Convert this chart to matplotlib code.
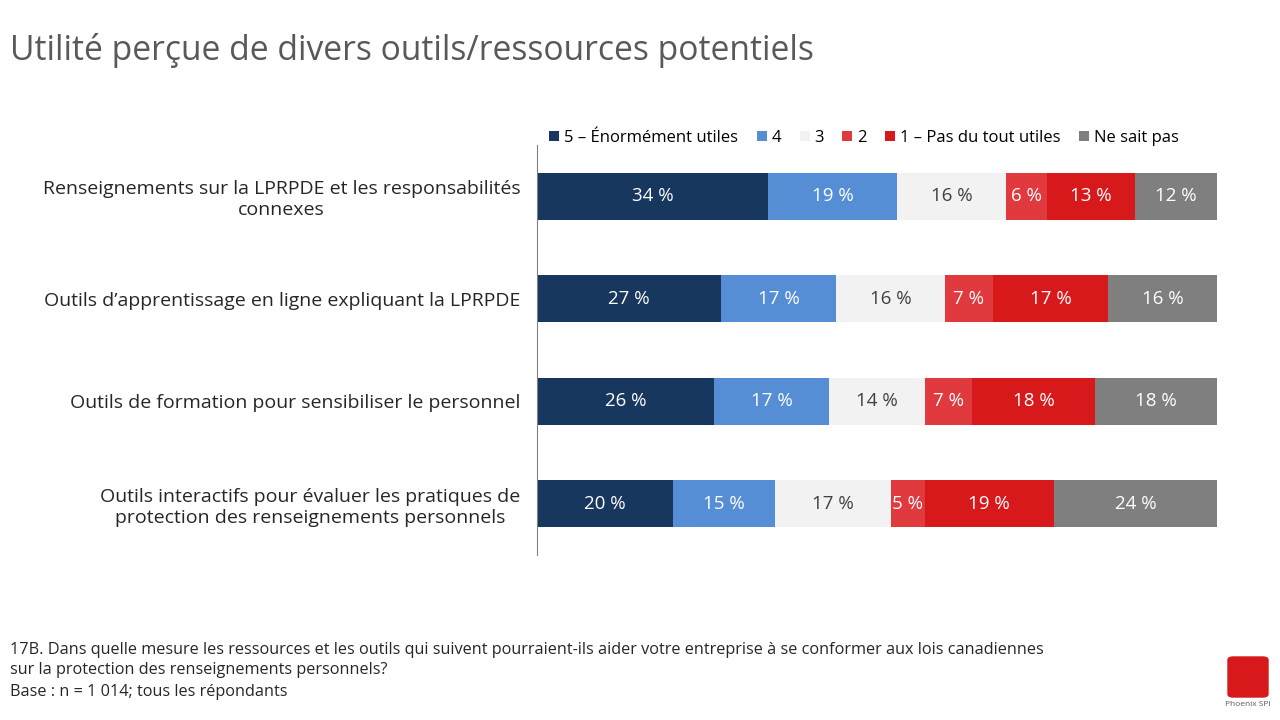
import numpy as np
import matplotlib.pyplot as plt
from matplotlib.patches import FancyBboxPatch

plt.rcParams['font.family'] = ['Open Sans', 'DejaVu Sans']

categories = ["Renseignements sur la LPRPDE et les responsabilités\nconnexes",
              "Outils d\u2019apprentissage en ligne expliquant la LPRPDE",
              "Outils de formation pour sensibiliser le personnel",
              "Outils interactifs pour évaluer les pratiques de\nprotection des renseignements personnels"]
series = ["5 \u2013 Énormément utiles", "4", "3", "2", "1 \u2013 Pas du tout utiles", "Ne sait pas"]
values = np.array([[34, 19, 16, 6, 13, 12],
                   [27, 17, 16, 7, 17, 16],
                   [26, 17, 14, 7, 18, 18],
                   [20, 15, 17, 5, 19, 24]])
colors = ["#17375E", "#558ED5", "#F2F2F2", "#E0393E", "#D7191C", "#7F7F7F"]
text_colors = ["white", "white", "#404040", "white", "white", "white"]

fig = plt.figure(figsize=(12.8, 7.2), dpi=100)
ax = fig.add_axes([537/1280, 1-555/720, 680/1280, 410/720])

y = np.arange(len(categories))
left = np.zeros(len(categories))
for j, name in enumerate(series):
    ax.barh(y, values[:, j], left=left, height=0.46, color=colors[j], label=name)
    for i in range(len(categories)):
        ax.text(left[i] + values[i, j] / 2, y[i], f"{values[i, j]} %",
                ha='center', va='center', fontsize=13.5, color=text_colors[j])
    left += values[:, j]

ax.set_xlim(0, 100)
ax.set_ylim(len(categories) - 0.5, -0.5)
ax.set_yticks(y)
ax.set_yticklabels(categories, fontsize=14, color="#262626", multialignment='center')
ax.tick_params(axis='y', length=0, pad=12)
ax.set_xticks([])
for s in ['top', 'right', 'bottom']:
    ax.spines[s].set_visible(False)
ax.spines['left'].set_color('#808080')

ax.legend(loc='center left', bbox_to_anchor=(0.018, 1.017), ncol=6, frameon=False,
          fontsize=12, handlelength=0.6, handleheight=0.6, handletextpad=0.3,
          columnspacing=1.1, borderaxespad=0, borderpad=0)

fig.text(10/1280, 1-50/720, "Utilité perçue de divers outils/ressources potentiels",
         fontsize=24.2, color="#595959", va='center', ha='left')

fig.text(10/1280, 1-660/720,
         "17B. Dans quelle mesure les ressources et les outils qui suivent pourraient-ils aider votre entreprise à se conformer aux lois canadiennes\nsur la protection des renseignements personnels?",
         fontsize=11.7, color="#262626", va='center', ha='left', linespacing=1.4)
fig.text(10/1280, 1-692/720, "Base : n = 1 014; tous les répondants",
         fontsize=11.7, color="#262626", va='center', ha='left')

# logo
logo = FancyBboxPatch((1228/1280, 1-697/720), 40/1280, 40/720,
                      boxstyle="round,pad=0,rounding_size=0.004",
                      transform=fig.transFigure, color="#D7191C")
fig.patches.append(logo)
fig.text(1248/1280, 1-705/720, "Phoenix SPI", fontsize=6, color="#595959", ha='center', va='center')

fig.savefig("out.png", dpi=100)
